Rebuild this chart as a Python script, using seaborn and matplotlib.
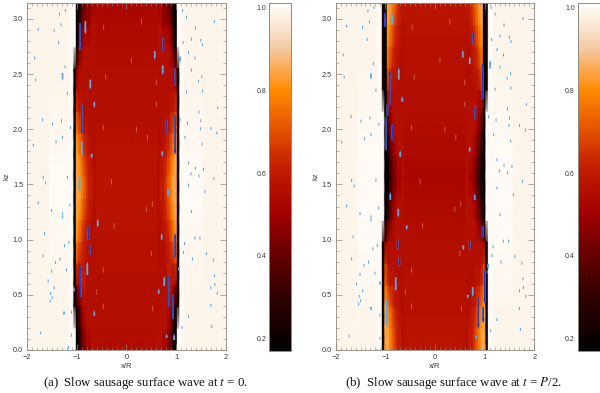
import numpy as np
import matplotlib
matplotlib.use("Agg")
import matplotlib.pyplot as plt
from matplotlib.colors import LinearSegmentedColormap
from matplotlib.ticker import MultipleLocator
import seaborn as sns

sns.set_theme(style="white")
plt.rcParams["font.family"] = ["Liberation Sans", "DejaVu Sans"]
plt.rcParams["mathtext.fontset"] = "stix"

# density level code used by the row strings
level_codes = {"0": .18, "1": .25, "2": .32, "3": .38, "4": .44, "5": .50, "6": .56, "7": .60,
               "8": .66, "9": .72, "a": .78, "b": .84, "c": .90, "d": .96, "e": 1.0}

# rows run from z=0 (first) to z=pi (last); left strings x=-1.15..-0.65, right x=0.65..1.15
left_a = ["eee01345566", "eee02456666", "ee103566666", "ee056776666", "ee087776666", "ee0a9877666",
          "ee0ba987766", "ee0bba98776", "ee0bba98776", "ee0ba987766", "ee0a9877666", "ee187766666",
          "ee066666666", "ee046666666", "eee03566666", "eee02455566", "eee00234455"]
right_a = ["66554310eee", "66665420eee", "666665301ee", "666677650ee", "666677780ee", "6667789a0ee",
           "667789ab0ee", "67789abb0ee", "67789abb0ee", "667789ab0ee", "6667789a0ee", "666667781ee",
           "666666660ee", "666666640ee", "66666530eee", "66555420eee", "55443200eee"]
mid_a = [.55, .56, .56, .56, .57, .57, .58, .58, .58, .58, .57, .56, .56, .56, .55, .54, .53]
near_a = [.99, .99, .99, .99, .992, .995, .998, 1.0, 1.0, .998, .995, .992, .99, .99, .99, .99, .99]

left_b = ["ee0bba98776", "ee0bba98776", "ee0ba987766", "ee098776666", "ee186666666", "ee046666666",
          "eee02456666", "eee01345666", "eee00234556", "eee01345666", "eee02456666", "eee04566666",
          "ee107666666", "ee109877666", "ee10a987766", "ee10ba98776", "ee10bba9877"]
right_b = ["67789abb0ee", "67789abb0ee", "667789ab0ee", "666677890ee", "666666681ee", "666666640ee",
           "66665420eee", "66654310eee", "65543200eee", "66654310eee", "66665420eee", "66666540eee",
           "666666701ee", "666778901ee", "667789a01ee", "67789ab01ee", "7789abb01ee"]
mid_b = [.58, .58, .57, .57, .56, .56, .55, .54, .53, .54, .55, .56, .56, .57, .57, .58, .58]
near_b = [.99, .99, .992, .995, .998, 1.0, 1.0, 1.0, 1.0, 1.0, .998, .995, .992, .99, .99, .99, .99]
far_value = .99

cmap_values = [.17, .20, .30, .40, .50, .55, .60, .65, .70, .75, .80, .85, .90, .95, .99, 1.01]
cmap_colors = ["#000000", "#0c0000", "#300000", "#640000", "#a00000", "#b00c00", "#c01a00", "#d03000",
               "#e25000", "#f26c00", "#ff8a00", "#fba850", "#f4c9a0", "#f8e4d0", "#fef5ea", "#ffffff"]

big_a_x = [-.94, -.83, .74, -.73, -.65, -.90, -.90, -.70, .81, .98, -1.29, .73, .98, 1.08, .57, .72, -.95, .84,
           -.77, -.74, -.92, -.79, -.58, .71, .98, .76, .86, .94, .65, .96, .81, -.65, -1.26, -1.06]
big_a_tail = [2.96, 2.98, 2.83, 2.45, 2.25, 2.23, 1.89, 1.78, 2.08, 2.13, 2.51, 2.58, 2.55, 2.66, 2.71, 1.80, 1.57, 1.46,
              1.00, .86, .48, .68, 1.12, 1.00, .84, .58, .39, .28, .51, .09, .11, .31, .32, .53]
big_a_tip = [2.71, 2.86, 2.69, 2.36, 2.19, 1.95, 1.75, 1.73, 1.95, 1.77, 2.44, 2.49, 2.39, 2.60, 2.63, 1.75, 1.43, 1.39,
             1.13, .96, .77, .80, 1.19, 1.06, 1.06, .67, .69, .51, .56, .15, .15, .36, .36, .58]
big_a_wide = [1, 0, 1, 0, 0, 1, 0, 0, 1, 1, 0, 0, 1, 0, 0, 0, 0, 0, 1, 1, 1, 0, 0, 0, 1, 0, 1, 1, 0, 0, 0, 0, 0, 0]

big_b_x = [-1.01, -.86, .77, -.91, -.73, -.96, -.99, -.86, -.70, .70, .56, .81, .96, -.66, .70, -.90, .80, -1.29, 1.11,
           -.74, -.57, -.75, -.72, .70, .57, -.79, .76, .66, -.97, 1.00, .87, .97, .96, 1.07, .83, -1.11, -1.29]
big_b_tail = [2.93, 2.95, 2.77, 2.22, 2.45, 2.12, 1.81, 1.90, 1.75, 2.59, 2.65, 2.09, 2.27, 2.25, 1.80, 1.36, 1.36, 2.46, 2.55,
              1.28, 1.13, 1.00, .84, .99, .95, .66, .57, .50, .45, .72, .48, .39, 1.12, .78, .13, .62, .39]
big_b_tip = [3.06, 3.05, 2.89, 2.54, 2.56, 2.24, 2.12, 2.05, 1.81, 2.66, 2.72, 2.22, 2.60, 2.30, 1.85, 1.43, 1.42, 2.52, 2.63,
             1.20, 1.08, .90, .75, .90, .90, .53, .48, .46, .21, .42, .19, .24, 1.01, .73, .09, .58, .35]
big_b_wide = [1, 0, 1, 1, 0, 1, 1, 1, 0, 0, 0, 1, 1, 0, 0, 0, 0, 0, 0,
              0, 0, 1, 1, 1, 0, 0, 0, 0, 0, 1, 1, 1, 1, 0, 0, 0, 0]

speck_x = [-1.23, -1.35, -1.32, -1.46, -1.78, -1.37, -1.24, -1.85, -1.83, -1.19, -1.69, -1.49, -1.31, -1.13, -1.29,
           -1.42, -1.88, -1.19, -1.68, -1.63, 1.13, 1.21, 1.39, 1.77, 1.14, 1.31, 1.5, 1.53, 1.25, 1.38, 1.31, 1.52,
           1.45, 1.21, 1.53, 1.46, 1.84, 1.08, 1.23, 1.5, 1.49, 1.7, 1.82, 1.18, 1.52, 1.25, 1.39, 1.55, 1.3, 1.46,
           1.76, 1.25, 1.58, -1.78, -1.51, -1.14, -1.29, -1.29, -1.65, -1.16, -1.25, -1.68, -1.34, -1.43, -1.51,
           -1.21, -1.58, -1.46, -1.53, -1.5, -1.54, -1.11, -1.73, -1.11, -1.17, 1.31, 1.17, 1.38, 1.48, 1.15, 1.33,
           1.61, 1.75, 1.05, 1.77, 1.7, 1.78, 1.83, 1.7, 1.25, 1.72, 1.12]
speck_z = [3.09, 3.06, 2.96, 2.91, 2.92, 2.80, 2.58, 2.66, 2.46, 2.34, 2.10, 2.06, 2.09, 2.03, 1.94,
           1.90, 1.87, 1.55, 1.55, 1.50, 3.09, 3.03, 2.93, 2.99, 2.80, 2.83, 2.82, 2.78, 2.71, 2.66, 2.55, 2.49,
           2.45, 2.35, 2.36, 2.17, 2.21, 2.10, 2.07, 2.09, 2.02, 2.02, 1.98, 1.94, 1.88, 1.71, 1.66, 1.65, 1.61, 1.59,
           1.54, 1.48, 1.42, 1.32, 1.25, 1.30, 1.22, 1.19, 1.04, .96, .93, .84, .81, .78, .70,
           .71, .61, .55, .50, .46, .43, .33, .14, .12, .01, 1.24, .95, 1.0, 1.0, .87, .81,
           .86, .8, .72, .66, .55, .58, .5, .39, .29, .2, .19]
faint_x = [-.42, -.46, -.47, .6, .6, .2, .42, -.3, -.47, .53, .4, .52, -.47, .5, -.6, .1, -.25, .3]
faint_z = [2.45, 2.90, 1.99, 2.4, 2.2, 1.97, 1.9, 1.5, .37, .35, 1.25, 1.3, .7, .85, .5, 2.6, 1.1, 2.95]

xticks = [-2, -1, 0, 1, 2]
yticks = [0.0, 0.5, 1.0, 1.5, 2.0, 2.5, 3.0]
cbar_ticks = [.2, .4, .6, .8, 1.0]
captions = [r"(a)  Slow sausage surface wave at $t$ = 0.", r"(b)  Slow sausage surface wave at $t$ = $P$/2."]

W, H = 600, 393
cmap = LinearSegmentedColormap.from_list(
    "tube", [((v - .17) / .84, c) for v, c in zip(cmap_values, cmap_colors)], N=512)
FRAME = "#8f8a80"
TXT = "#3a3a3a"


def table(left, right, mid, near):
    rows = []
    for l, r, m, n in zip(left, right, mid, near):
        rows.append([far_value] * 9 + [n] * 8 + [level_codes[c] for c in l] + [m] * 25
                    + [level_codes[c] for c in r] + [n] * 8 + [far_value] * 9)
    # each column is held flat for a moment so the tube wall stays crisp
    return np.repeat(np.array(rows), 2, axis=1)


def px_axes(x0, y0, x1, y1, **kw):
    return fig.add_axes([x0 / W, 1 - y1 / H, (x1 - x0) / W, (y1 - y0) / H], **kw)


def panel(box, cbox, data, bx, btail, btip, bwide, speck_sign, caption, cap_x):
    ax = px_axes(*box)
    cax = px_axes(*cbox)
    sns.heatmap(data, ax=ax, cmap=cmap, vmin=.17, vmax=1.01, cbar_ax=cax, shading="gouraud",
                xticklabels=False, yticklabels=False)
    ax.set_xlim(0, data.shape[1] - 1)
    ax.set_ylim(0, data.shape[0] - 1)
    ax.axis("off")

    cb = ax.collections[0].colorbar
    cb.outline.set_edgecolor(FRAME)
    cb.outline.set_linewidth(.7)
    cb.ax.yaxis.set_ticks_position("left")
    cb.set_ticks(cbar_ticks)
    cb.ax.yaxis.set_minor_locator(MultipleLocator(.1))
    cb.ax.tick_params(which="major", direction="in", length=4, width=.5, color=FRAME, labelsize=5,
                      labelcolor=TXT, pad=2, left=True, right=False)
    cb.ax.tick_params(which="minor", direction="in", length=2, width=.4, color=FRAME, left=True, right=True)

    ov = px_axes(*box, facecolor="none")
    ov.set_xlim(-2, 2)
    ov.set_ylim(0, np.pi)
    ov.set_xticks(xticks)
    ov.set_yticks(yticks)
    ov.set_yticklabels([f"{v:.1f}" for v in yticks])
    ov.xaxis.set_minor_locator(MultipleLocator(.1))
    ov.yaxis.set_minor_locator(MultipleLocator(.1))
    ov.tick_params(which="major", direction="in", length=4, width=.5, color=FRAME, labelsize=5.3,
                   labelcolor=TXT, top=True, right=True, bottom=True, left=True, pad=3)
    ov.tick_params(which="minor", direction="in", length=2, width=.4, color=FRAME,
                   top=True, right=True, bottom=True, left=True)
    for s in ov.spines.values():
        s.set_edgecolor(FRAME)
        s.set_linewidth(.6)
    ov.set_xlabel("x/R", fontsize=5.5, color=TXT, labelpad=1.5)
    ov.set_ylabel("kz", fontsize=5.5, color=TXT, labelpad=1.5)

    kw = dict(angles="xy", scale_units="xy", scale=1, units="dots", pivot="tail", minlength=0, minshaft=.3)
    sz = np.array(speck_z)
    ov.quiver(faint_x, faint_z, np.zeros(len(faint_x)), np.full(len(faint_x), .05), color="#e8a090",
              width=.8, headwidth=1, headlength=.1, headaxislength=.1, alpha=.6, **kw)
    ov.quiver(speck_x, speck_z, np.zeros(len(sz)), np.where(sz > 1.57, .028, -.028) * speck_sign, color="#5aa5ea",
              width=1.0, headwidth=1, headlength=.1, headaxislength=.1, **kw)
    bx, bt, bp, bw = map(np.array, (bx, btail, btip, bwide))
    ov.quiver(bx, bt, np.zeros(len(bx)), bp - bt, color="#5aaaea", width=1.8, headwidth=1.3, headlength=2,
              headaxislength=2, **kw)
    ov.quiver(bx[bw == 1], bt[bw == 1], np.zeros(bw.sum()), (bp - bt)[bw == 1], color="#2a30b8", width=1.5,
              headwidth=1.7, headlength=3, headaxislength=3, **kw)
    fig.text(cap_x / W, 1 - 383 / H, caption, family="Liberation Serif", fontsize=9.3, color="#111111",
             ha="center", va="center")


fig = plt.figure(figsize=(W / 100, H / 100), dpi=100, facecolor="white")
panel((27.3, 3.3, 225.7, 350), (269.3, 3.3, 290.7, 351), table(left_a, right_a, mid_a, near_a),
      big_a_x, big_a_tail, big_a_tip, big_a_wide, -1, captions[0], 145.5)
panel((335.7, 3.3, 534.3, 350), (577.7, 3.3, 599.5, 351), table(left_b, right_b, mid_b, near_b),
      big_b_x, big_b_tail, big_b_tip, big_b_wide, 1, captions[1], 454)
fig.savefig("out.png", dpi=100)
